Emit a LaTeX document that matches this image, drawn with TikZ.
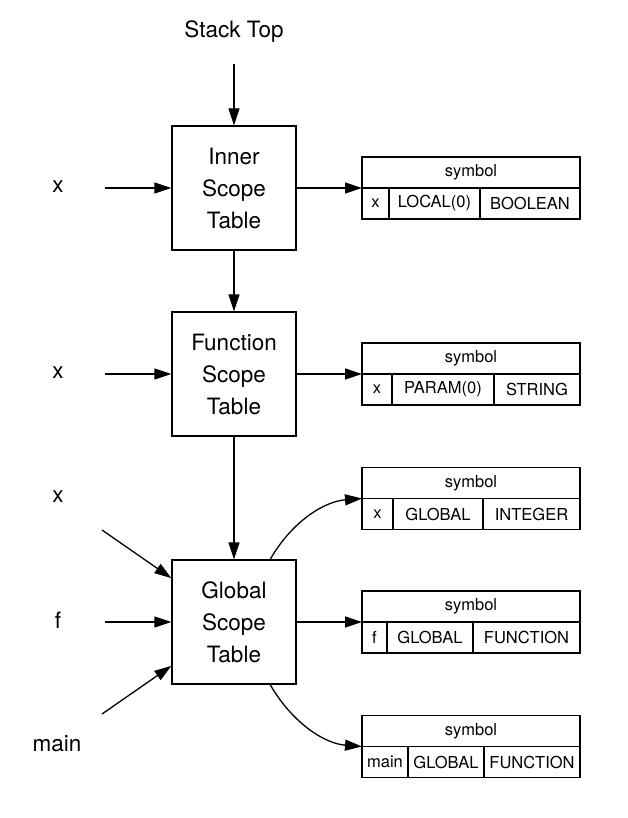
\documentclass[tikz,border=0pt]{standalone}
\usepackage{fontspec}
\setmainfont{TeX Gyre Heros}
\usetikzlibrary{arrows.meta,positioning,calc}
\tikzset{
  scopebox/.style={draw,line width=1.3pt,minimum width=124pt,minimum height=124pt,inner sep=0pt,align=center,font=\fontsize{22.5}{32}\selectfont},
  sidelabel/.style={inner sep=0pt,font=\fontsize{22.5}{27}\selectfont},
  flow/.style={line width=1.3pt,-{Triangle[length=17pt,width=11pt]}},
  symhead/.style={draw,line width=1.2pt,minimum width=218pt,minimum height=31pt,inner sep=0pt,outer sep=0pt,font=\fontsize{16.5}{20}\selectfont},
  symcell/.style={symhead,minimum width=#1,anchor=north west}
}

\begin{document}
\begin{tikzpicture}[x=1pt,y=-1pt]
\useasboundingbox (0,0) rectangle (628,818);
% scope chain
\node[sidelabel] (stacktop) at (234,32) {Stack Top};
\coordinate (topin) at (234,64);
\node[scopebox] (inner) at (234,188) {Inner\\Scope\\Table};
\node[scopebox] (func) at (234,374) {Function\\Scope\\Table};
\node[scopebox] (glob) at (234,622) {Global\\Scope\\Table};
\draw[flow] (topin) -- (inner);
\draw[flow] (inner) -- (func);
\draw[flow] (func) -- (glob);

% names looked up
\node[sidelabel] (xinner) at (58,187) {x};
\node[sidelabel] (xfunc) at (58,373) {x};
\node[sidelabel] (xglob) at (58,497) {x};
\node[sidelabel] (fglob) at (58,620) {f};
\node[sidelabel] (mainglob) at (57,744) {main};
\coordinate (in1) at (105,188);
\coordinate (in2) at (105,374);
\coordinate (in3) at (102,530);
\coordinate (in4) at (105,622);
\coordinate (in5) at (102,714);
\draw[flow] (in1) -- (inner);
\draw[flow] (in2) -- (func);
\draw[flow] (in3) -- (glob.145);
\draw[flow] (in4) -- (glob);
\draw[flow] (in5) -- (glob.215);

% symbol entries
\node[symhead] (sym1) at (471,172.5) {symbol};
\node[symcell=27] (sym1a) at (sym1.south west) {x};
\node[symcell=91] (sym1b) at (sym1a.north east) {LOCAL(0)};
\node[symcell=100] (sym1c) at (sym1b.north east) {BOOLEAN};

\node[symhead] (sym2) at (471,358.5) {symbol};
\node[symcell=30] (sym2a) at (sym2.south west) {x};
\node[symcell=102] (sym2b) at (sym2a.north east) {PARAM(0)};
\node[symcell=86] (sym2c) at (sym2b.north east) {STRING};

\node[symhead] (sym3) at (471,483) {symbol};
\node[symcell=31] (sym3a) at (sym3.south west) {x};
\node[symcell=90] (sym3b) at (sym3a.north east) {GLOBAL};
\node[symcell=97] (sym3c) at (sym3b.north east) {INTEGER};

\node[symhead] (sym4) at (471,606.5) {symbol};
\node[symcell=25] (sym4a) at (sym4.south west) {f};
\node[symcell=86] (sym4b) at (sym4a.north east) {GLOBAL};
\node[symcell=107] (sym4c) at (sym4b.north east) {FUNCTION};

\node[symhead] (sym5) at (471,731) {symbol};
\node[symcell=46] (sym5a) at (sym5.south west) {main};
\node[symcell=76] (sym5b) at (sym5a.north east) {GLOBAL};
\node[symcell=96] (sym5c) at (sym5b.north east) {FUNCTION};

\draw[flow] (inner) -- (sym1.south west);
\draw[flow] (func) -- (sym2.south west);
\draw[flow] (glob.60) .. controls +(22,-38) and +(-38,3) .. (sym3.south west);
\draw[flow] (glob) -- (sym4.south west);
\draw[flow] (glob.-60) .. controls +(22,38) and +(-38,-3) .. (sym5.south west);
\end{tikzpicture}
\end{document}
